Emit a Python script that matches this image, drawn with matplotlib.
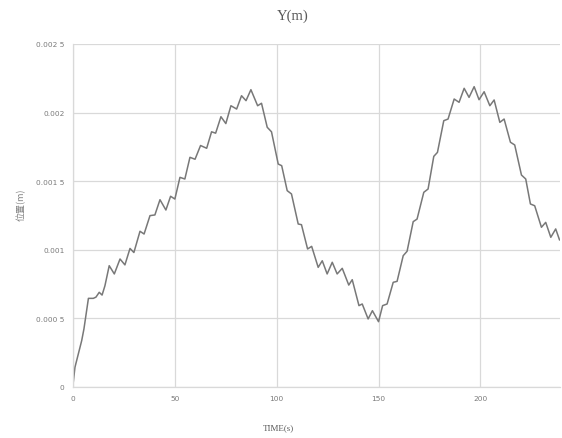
import matplotlib.pyplot as plt

# Position Y du point suivi au cours du temps
time_s = [0, 1.1, 4.4, 5.5, 7.7, 10.1, 11.4, 13.0, 14.4, 15.8, 17.9, 20.4, 23.2, 25.6,
          28.1, 30.0, 33.0, 35.0, 37.9, 40.3, 42.8, 45.7, 48.0, 50.1, 52.6, 55.0,
          57.5, 60.0, 62.7, 65.7, 68.1, 70.1, 72.7, 75.1, 77.6, 80.4, 82.8, 85.0,
          87.4, 90.7, 92.6, 95.4, 97.5, 100.8, 102.5, 105.2, 107.3, 110.6, 112.2,
          115.2, 117.2, 120.4, 122.4, 124.8, 127.3, 129.7, 132.2, 135.4, 137.1,
          140.4, 142.0, 144.9, 147.0, 150.0, 152.0, 154.2, 157.2, 159.1, 162.1,
          164.0, 167.0, 168.9, 172.2, 174.3, 177.1, 178.9, 182.0, 184.1, 187.1,
          189.5, 192.0, 194.4, 196.9, 199.3, 201.8, 204.6, 206.7, 209.5, 211.6,
          214.7, 216.8, 220.1, 222.2, 224.5, 226.6, 229.9, 232.0, 234.5, 236.9, 238.8]
y_m = [0, 0.000144, 0.000338, 0.000423, 0.000646, 0.000646, 0.000655, 0.00069,
       0.00067, 0.000738, 0.000884, 0.000824, 0.000933, 0.00089, 0.00101, 0.00098,
       0.001135, 0.001115, 0.001249, 0.001254, 0.001365, 0.00129, 0.00139, 0.00137,
       0.001528, 0.001516, 0.001674, 0.00166, 0.00176, 0.00174, 0.00186, 0.00185,
       0.00197, 0.00192, 0.00205, 0.002026, 0.002123, 0.002087, 0.002167, 0.00205,
       0.002068, 0.001893, 0.00186, 0.001625, 0.001613, 0.001431, 0.001407,
       0.001188, 0.001183, 0.001006, 0.001025, 0.000872, 0.00092, 0.000824,
       0.000909, 0.000824, 0.000865, 0.000743, 0.000782, 0.000593, 0.000605,
       0.000496, 0.000556, 0.000476, 0.000593, 0.000605, 0.000763, 0.00077,
       0.000957, 0.000989, 0.001205, 0.001224, 0.001419, 0.001443, 0.001681,
       0.00171, 0.001941, 0.001953, 0.002099, 0.002075, 0.002177, 0.002111,
       0.002189, 0.002094, 0.002152, 0.00205, 0.002092, 0.001929, 0.001953,
       0.001784, 0.001764, 0.001545, 0.001516, 0.001334, 0.001321, 0.001164,
       0.0012, 0.001091, 0.001152, 0.001071]

x_ticks = [0, 50, 100, 150, 200]
y_ticks = [0, 0.0005, 0.001, 0.0015, 0.002, 0.0025]
y_tick_labels = ["0", "0.000 5", "0.001", "0.001 5", "0.002", "0.002 5"]

text_grey = "#595959"
grid_grey = "#d9d9d9"

fig = plt.figure(figsize=(5.62, 4.39), dpi=100)
ax = fig.add_axes([0.1294, 0.1162, 0.8670, 0.7813])

ax.plot(time_s, y_m, color="#787878", linewidth=1.1,
        solid_joinstyle="round", solid_capstyle="round")

ax.set_xlim(0, 239)
ax.set_ylim(0, 0.0025)
ax.set_xticks(x_ticks)
ax.set_xticklabels([str(t) for t in x_ticks])
ax.set_yticks(y_ticks)
ax.set_yticklabels(y_tick_labels)
ax.tick_params(length=0, labelsize=5.3, labelcolor="#7a7a7a", pad=6)

ax.grid(True, color=grid_grey, linewidth=0.9)
ax.set_axisbelow(True)
for side in ["top", "right"]:
    ax.spines[side].set_visible(False)
for side in ["left", "bottom"]:
    ax.spines[side].set_color(grid_grey)
    ax.spines[side].set_linewidth(0.9)

fig.text(0.521, 0.963, "Y(m)", ha="center", va="center",
         family="Liberation Serif", fontsize=10.5, color=text_grey)
fig.text(0.496, 0.025, "TIME(s)", ha="center", va="center",
         family="Liberation Serif", fontsize=6.5, color=text_grey)
fig.text(0.037, 0.533, "位置(m)", ha="center", va="center", rotation=90,
         family=["Noto Sans CJK SC", "DejaVu Sans"], fontsize=6.5, color="#808080")

fig.savefig("out.png", dpi=100)
